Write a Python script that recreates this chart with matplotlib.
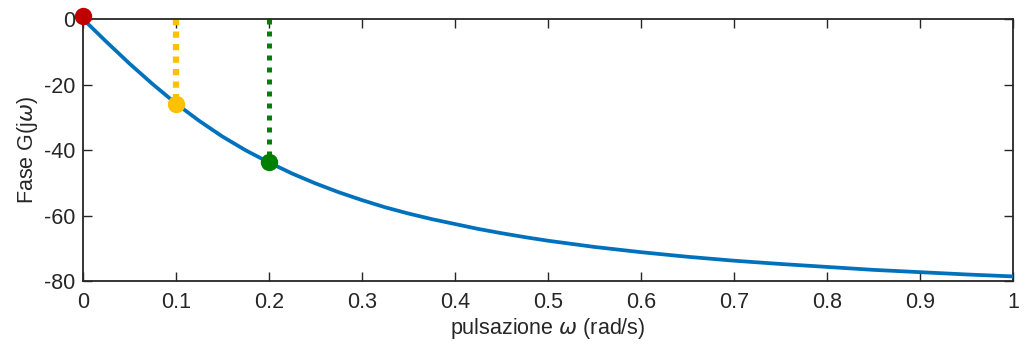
import matplotlib
matplotlib.use("Agg")
import matplotlib.pyplot as plt

omega = [0, 0.025, 0.05, 0.075, 0.1, 0.125, 0.15, 0.175, 0.2, 0.225, 0.25, 0.275,
         0.3, 0.325, 0.35, 0.375, 0.4, 0.425, 0.45, 0.475, 0.5, 0.55, 0.6, 0.65,
         0.7, 0.75, 0.8, 0.85, 0.9, 0.95, 1.0]
phase = [0, -6.9, -13.6, -19.9, -25.8, -31.1, -35.9, -40.1, -43.8, -47.2, -50.2, -52.9,
         -55.3, -57.5, -59.4, -61.1, -62.6, -64.1, -65.4, -66.6, -67.7, -69.6, -71.2,
         -72.6, -73.8, -74.8, -75.7, -76.6, -77.3, -78.0, -78.6]

pt_start = (0.0, 1.0)
pt_yellow = (0.1, -25.8)
pt_green = (0.2, -43.8)

xticks = [0, 0.1, 0.2, 0.3, 0.4, 0.5, 0.6, 0.7, 0.8, 0.9, 1]
xticklabels = ["0", "0.1", "0.2", "0.3", "0.4", "0.5", "0.6", "0.7", "0.8", "0.9", "1"]
yticks = [-80, -60, -40, -20, 0]
yticklabels = ["-80", "-60", "-40", "-20", "0"]

plt.rcParams['font.family'] = ['Liberation Sans', 'DejaVu Sans']
axc = '#262626'
fs = 15.5

fig = plt.figure(figsize=(10.28, 3.45), dpi=100)
ax = fig.add_axes([0.0807, 0.1855, 0.9047, 0.7594])

ax.plot(omega, phase, color='#0072BD', lw=2.7, zorder=3)
ax.plot([pt_yellow[0], pt_yellow[0]], [0, pt_yellow[1]], color='#FFC000', lw=4.5,
        linestyle=(0, (1, 1)), zorder=2, clip_on=False)
ax.plot([pt_green[0], pt_green[0]], [0, pt_green[1]], color='#008000', lw=3.6,
        linestyle=(0, (1, 1.4)), zorder=2, clip_on=False)
ax.plot(*pt_yellow, 'o', color='#FFC000', ms=11.5, zorder=4, clip_on=False)
ax.plot(*pt_green, 'o', color='#008000', ms=11.5, zorder=4, clip_on=False)
ax.plot(*pt_start, 'o', color='#C00000', ms=11.5, zorder=5, clip_on=False)

ax.set_xlim(0, 1)
ax.set_ylim(-80, 0)
ax.set_xticks(xticks)
ax.set_xticklabels(xticklabels)
ax.set_yticks(yticks)
ax.set_yticklabels(yticklabels)
ax.tick_params(direction='in', length=6.5, width=1, colors=axc, labelsize=fs,
               top=True, right=True)
ax.tick_params(axis='x', pad=8)
ax.tick_params(axis='y', pad=5.5)
for s in ax.spines.values():
    s.set_color(axc)
    s.set_linewidth(1.3)
ax.set_xlabel(r'pulsazione $\omega$ (rad/s)', fontsize=fs, color=axc, labelpad=2)
ax.set_ylabel(r'Fase G(j$\omega$)', fontsize=fs, color=axc, labelpad=3)

fig.savefig('out.png', dpi=100)
